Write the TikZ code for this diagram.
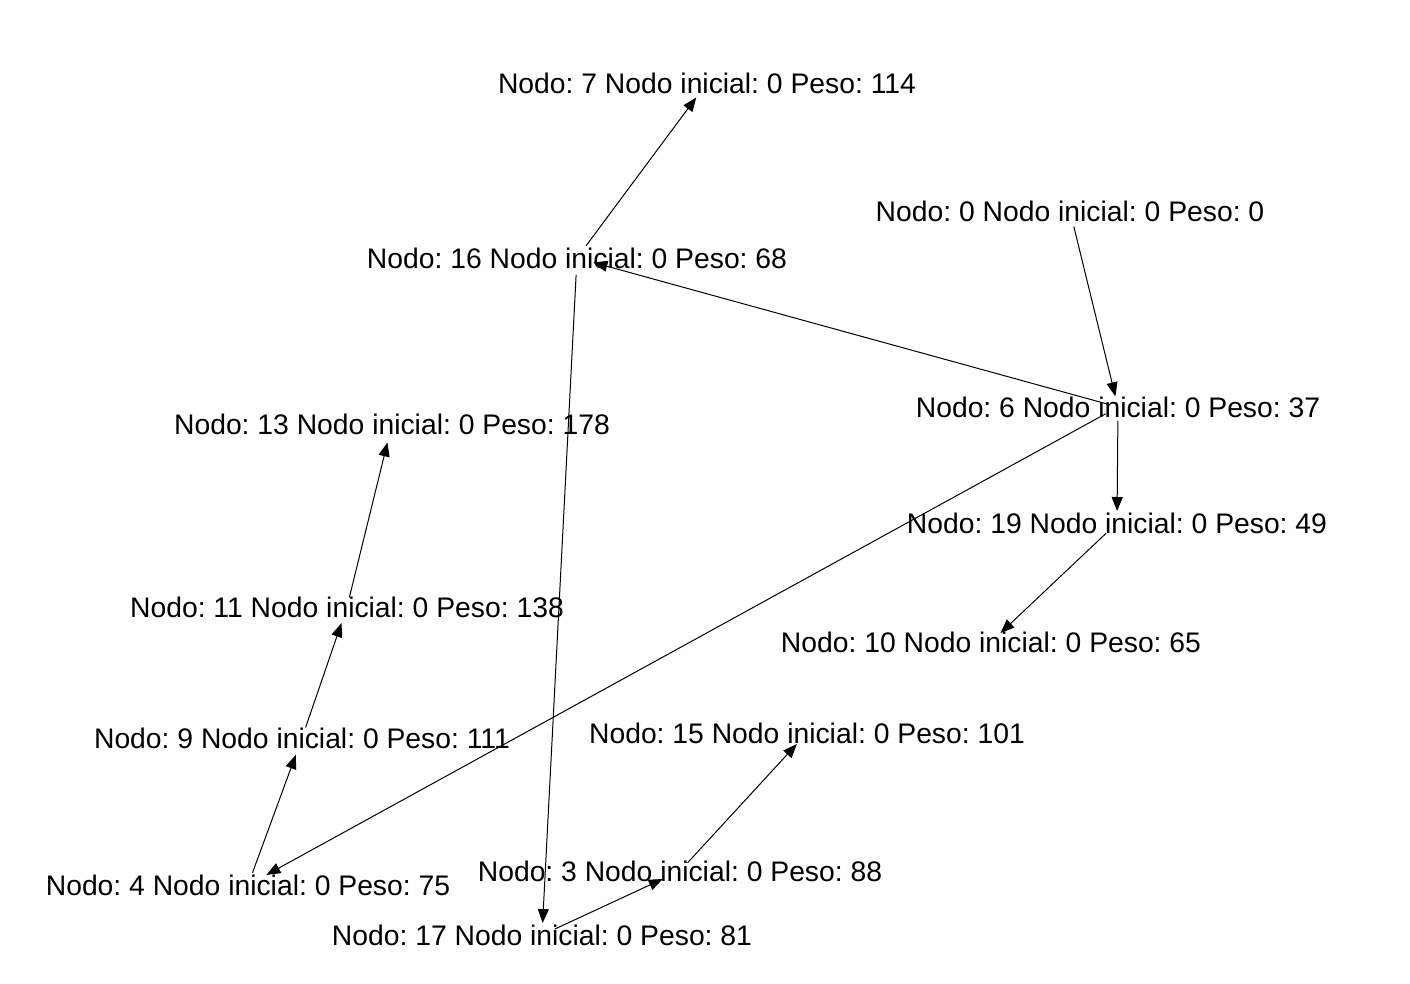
\documentclass[tikz,border=0pt]{standalone}
\usepackage{fontspec}
\setmainfont{Liberation Sans}
\usetikzlibrary{arrows.meta}
\frenchspacing
\begin{document}
\begin{tikzpicture}[x=0.5pt,y=-0.5pt,
  lbl/.style={inner sep=0pt,font=\fontsize{14.15}{17}\selectfont\frenchspacing},
  edge/.style={line width=0.5pt,-{Triangle[length=7pt,width=5.5pt]}}]
\useasboundingbox[fill=white] (0,0) rectangle (1410,984);
\node[lbl] (n7)  at (707,83)  {Nodo: 7 Nodo inicial: 0 Peso: 114};
\node[lbl] (n0)  at (1070,211) {Nodo: 0 Nodo inicial: 0 Peso: 0};
\node[lbl] (n16) at (577,258) {Nodo: 16 Nodo inicial: 0 Peso: 68};
\node[lbl] (n13) at (392,424) {Nodo: 13 Nodo inicial: 0 Peso: 178};
\node[lbl] (n6)  at (1118,407) {Nodo: 6 Nodo inicial: 0 Peso: 37};
\node[lbl] (n19) at (1117,523) {Nodo: 19 Nodo inicial: 0 Peso: 49};
\node[lbl] (n11) at (347,607) {Nodo: 11 Nodo inicial: 0 Peso: 138};
\node[lbl] (n10) at (991,642) {Nodo: 10 Nodo inicial: 0 Peso: 65};
\node[lbl] (n9)  at (302,738) {Nodo: 9 Nodo inicial: 0 Peso: 111};
\node[lbl] (n15) at (807,733) {Nodo: 15 Nodo inicial: 0 Peso: 101};
\node[lbl] (n3)  at (680,871) {Nodo: 3 Nodo inicial: 0 Peso: 88};
\node[lbl] (n4)  at (248,885) {Nodo: 4 Nodo inicial: 0 Peso: 75};
\node[lbl] (n17) at (542,935) {Nodo: 17 Nodo inicial: 0 Peso: 81};
\draw[edge,shorten <=8pt,shorten >=5.5pt] (n0.center) -- (n6.center);
\draw[edge,shorten <=5.5pt,shorten >=8.5pt] (n6.center) -- (n16.center);
\draw[edge,shorten <=7pt,shorten >=6pt] (n6.center) -- (n19.center);
\draw[edge,shorten <=7pt,shorten >=10.5pt] (n6.center) -- (n4.center);
\draw[edge,shorten <=7.5pt,shorten >=6.5pt] (n19.center) -- (n10.center);
\draw[edge,shorten <=7.5pt,shorten >=9pt] (n16.center) -- (n7.center);
\draw[edge,shorten <=8.5pt,shorten >=6pt] (n16.center) -- (n17.center);
\draw[edge,shorten <=7pt,shorten >=9.5pt] (n17.center) -- (n3.center);
\draw[edge,shorten <=5.5pt,shorten >=7.5pt] (n3.center) -- (n15.center);
\draw[edge,shorten <=6.5pt,shorten >=9pt] (n4.center) -- (n9.center);
\draw[edge,shorten <=5.5pt,shorten >=8.5pt] (n9.center) -- (n11.center);
\draw[edge,shorten <=5pt,shorten >=9.5pt] (n11.center) -- (n13.center);
\end{tikzpicture}
\end{document}
